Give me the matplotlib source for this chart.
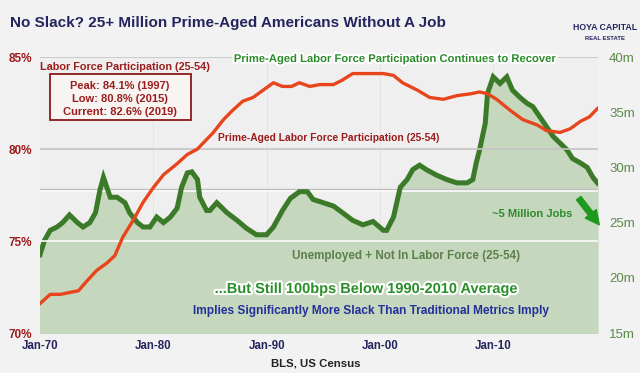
"""
No Slack? prime-aged labor force participation vs unemployed + not in LF
"""

import matplotlib.pyplot as plt
import matplotlib.patheffects as pe
from matplotlib.patches import FancyArrowPatch, FancyBboxPatch

RED = '#e8451c'
DRED = '#9b1c1c'
GLINE = '#3b7a28'
GFILL = '#c5d7bd'
NAVY = '#24245e'
BG = '#f2f2f2'

FONT = ['Liberation Sans', 'DejaVu Sans']

# Data -------------------------------------------------------------------------

# prime-aged labor force participation rate (%), left axis
lfpr_year = [1970.0, 1970.9, 1971.8, 1972.6, 1973.4, 1974.1, 1975.0, 1975.9, 1976.6,
             1977.3, 1978.2, 1979.1, 1980.0, 1980.9, 1982.1, 1983.0, 1983.9, 1985.3,
             1986.2, 1987.0, 1987.9, 1988.8, 1989.7, 1990.6, 1991.4, 1992.2, 1992.9,
             1993.8, 1994.7, 1995.9, 1996.7, 1997.6, 1998.9, 2000.3, 2001.2, 2002.0,
             2003.3, 2004.4, 2005.6, 2006.8, 2008.0, 2008.8, 2009.5, 2010.3, 2011.5,
             2012.6, 2013.9, 2014.7, 2015.9, 2016.8, 2017.7, 2018.5, 2019.2]
lfpr = [71.6, 72.1, 72.1, 72.2, 72.3, 72.8, 73.4, 73.8, 74.2,
        75.2, 76.1, 77.1, 77.9, 78.6, 79.2, 79.7, 80.0, 80.9,
        81.6, 82.1, 82.6, 82.8, 83.2, 83.6, 83.4, 83.4, 83.6,
        83.4, 83.5, 83.5, 83.75, 84.1, 84.1, 84.1, 84.0, 83.6,
        83.2, 82.8, 82.7, 82.9, 83.0, 83.1, 83.0, 82.7, 82.1,
        81.6, 81.3, 81.0, 80.9, 81.1, 81.5, 81.75, 82.2]

# unemployed + not in labor force, 25-54 (millions), right axis
nilf_year = [1970.0, 1970.4, 1970.9, 1971.5, 1972.0, 1972.6, 1973.3, 1973.8, 1974.4,
             1974.9, 1975.3, 1975.6, 1976.2, 1976.8, 1977.5, 1977.9, 1978.6, 1979.1,
             1979.7, 1980.3, 1980.9, 1981.5, 1982.1, 1982.5, 1983.0, 1983.4, 1983.9,
             1984.1, 1984.7, 1985.0, 1985.6, 1986.5, 1987.4, 1988.2, 1989.1, 1990.0,
             1990.6, 1991.4, 1992.1, 1992.9, 1993.6, 1994.1, 1995.0, 1995.9, 1996.7,
             1997.6, 1998.5, 1999.4, 2000.3, 2000.6, 2001.2, 2001.8, 2002.4, 2002.9,
             2003.5, 2004.1, 2005.0, 2005.9, 2006.8, 2007.7, 2008.2, 2008.5, 2008.8,
             2009.3, 2009.5, 2010.0, 2010.6, 2011.2, 2011.7, 2012.4, 2013.0, 2013.5,
             2014.1, 2014.7, 2015.3, 2015.9, 2016.5, 2017.0, 2017.7, 2018.3, 2018.8,
             2019.2]
nilf = [22.1, 23.4, 24.3, 24.6, 25.0, 25.7, 25.0, 24.6, 25.0,
        25.9, 28.0, 29.1, 27.3, 27.3, 26.8, 25.9, 25.0, 24.6,
        24.6, 25.5, 25.0, 25.5, 26.3, 28.2, 29.5, 29.6, 28.9,
        27.3, 26.1, 26.1, 26.8, 25.9, 25.2, 24.5, 23.9, 23.9,
        24.6, 26.1, 27.2, 27.8, 27.8, 27.1, 26.8, 26.5, 25.9,
        25.2, 24.8, 25.1, 24.3, 24.3, 25.5, 28.2, 28.9, 29.8,
        30.2, 29.8, 29.3, 28.9, 28.6, 28.6, 28.9, 30.4, 31.6,
        34.0, 36.7, 38.2, 37.6, 38.2, 37.0, 36.3, 35.8, 35.5,
        34.6, 33.7, 32.8, 32.2, 31.6, 30.8, 30.4, 30.0, 29.1,
        28.6]

xticks = [1970, 1980, 1990, 2000, 2010]
xlabels = ['Jan-70', 'Jan-80', 'Jan-90', 'Jan-00', 'Jan-10']
lticks = [70, 75, 80, 85]
rticks = [15, 20, 25, 30, 35, 40]
current_level = 28.0

# Figure -----------------------------------------------------------------------

fig = plt.figure(figsize=(6.4, 3.73), dpi=100, facecolor=BG)
ax2 = fig.add_axes([40/640, 1 - 333/373, 558/640, 276/373])
ax1 = ax2.twinx()
ax2.set_facecolor('#efefef')

# green series (right axis) drawn on ax2, red on top via ax1
ax2.fill_between(nilf_year, 15, nilf, color=GFILL, zorder=1)
ax2.axhline(current_level, color='#bdbdbd', lw=1.0, zorder=2)
ax2.axhline(current_level - 0.12, color='#fbfbfb', lw=1.2, zorder=2)
ax2.plot(nilf_year, nilf, color=GLINE, lw=3.6, zorder=3, solid_joinstyle='miter')
ax2.set_ylim(15, 40)
ax2.set_xlim(1970, 2019.25)

for yv in lticks[1:]:
    c = '#fafafa' if yv == 75 else '#c4c4c4'
    ax1.axhline(yv, color=c, lw=1.2, zorder=0)
for xv in xticks[1:]:
    ax2.axvline(xv, color='#e2e2e2', lw=0.6, zorder=0.5)

ax1.plot(lfpr_year, lfpr, color=RED, lw=2.4, zorder=4)
ax1.set_ylim(70, 85)

# ticks and spines
for a in (ax1, ax2):
    for s in a.spines.values():
        s.set_visible(False)
    a.tick_params(length=0)

ax2.yaxis.tick_right()
ax1.yaxis.tick_left()
ax1.set_yticks(lticks)
ax1.set_yticklabels([f'{v}%' for v in lticks], color=DRED, fontweight='bold',
                    fontsize=8.5, family=FONT)
ax2.set_yticks(rticks)
ax2.set_yticklabels([f'{v}m' for v in rticks], color='#5b8a4a', fontsize=9.5,
                    family=FONT)
ax2.set_xticks(xticks)
ax2.set_xticklabels(xlabels, color=NAVY, fontweight='bold', fontsize=8.3, family=FONT)
ax2.tick_params(axis='y', pad=8)
ax1.tick_params(axis='y', pad=6)
ax2.tick_params(axis='x', pad=5)

# Text -------------------------------------------------------------------------

def ftext(x, y, s, **kw):
    kw.setdefault('family', FONT)
    kw.setdefault('fontweight', 'bold')
    return fig.text(x/640, 1 - y/373, s, **kw)

glow = [pe.withStroke(linewidth=3, foreground='white')]

ftext(10, 23, 'No Slack? 25+ Million Prime-Aged Americans Without A Job',
      color=NAVY, fontsize=11, va='center')
ftext(605, 27, 'HOYA CAPITAL', color=NAVY, fontsize=6.3, ha='center', va='center')
ftext(605, 39, 'REAL ESTATE', color=NAVY, fontsize=4.2, ha='center', va='center')

ftext(40, 67, 'Labor Force Participation (25-54)', color=DRED, fontsize=7.8, va='center')
box = FancyBboxPatch((50/640, 1 - 120/373), 141/640, 46/373, boxstyle='square,pad=0',
                     transform=fig.transFigure, facecolor='#f7f4f2', edgecolor='#8b1a1a',
                     lw=1.3, zorder=5)
fig.patches.append(box)
ftext(120, 86, 'Peak: 84.1% (1997)', color=DRED, fontsize=8, ha='center', va='center', zorder=6)
ftext(120, 99, 'Low: 80.8% (2015)', color=DRED, fontsize=8, ha='center', va='center', zorder=6)
ftext(120, 112, 'Current: 82.6% (2019)', color=DRED, fontsize=8, ha='center', va='center', zorder=6)

ftext(218, 138, 'Prime-Aged Labor Force Participation (25-54)', color=DRED,
      fontsize=7.4, va='center')
ftext(395, 59, 'Prime-Aged Labor Force Participation Continues to Recover',
      color='#2c8c2c', fontsize=8.1, ha='center', va='center', path_effects=glow)
ftext(406, 256, 'Unemployed + Not In Labor Force (25-54)', color='#5c7f4c',
      fontsize=8.4, ha='center', va='center')
ftext(367, 289, '...But Still 100bps Below 1990-2010 Average', color='#2a8f2a',
      fontsize=10.5, ha='center', va='center', path_effects=glow)
ftext(371, 311, 'Implies Significantly More Slack Than Traditional Metrics Imply',
      color='#23309a', fontsize=8.6, ha='center', va='center')
ftext(532, 214, '~5 Million Jobs', color='#2e8b2e', fontsize=8, ha='center', va='center')
ftext(316, 364, 'BLS, US Census', color='#222222', fontsize=8.2, ha='center', va='center')

arrow = FancyArrowPatch((577/640, 1 - 196/373), (601/640, 1 - 227/373),
                        transform=fig.transFigure, arrowstyle='simple,head_width=10,head_length=10,tail_width=4',
                        color='#1f9a1f', zorder=6)
fig.patches.append(arrow)

fig.savefig('out.png', dpi=100, facecolor=BG)
